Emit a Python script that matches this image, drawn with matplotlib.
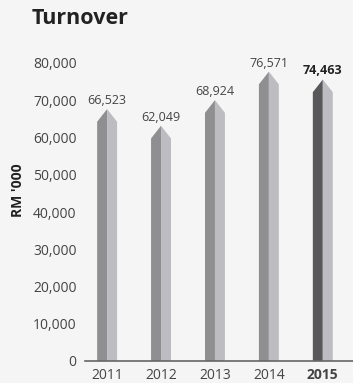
import numpy as np
import matplotlib.pyplot as plt

plt.rcParams['font.family'] = ['Open Sans', 'DejaVu Sans']

years = ['2011', '2012', '2013', '2014', '2015']
turnover = [66523, 62049, 68924, 76571, 74463]
yticks = [0, 10000, 20000, 30000, 40000, 50000, 60000, 70000, 80000]

bg = '#f5f5f5'
fig = plt.figure(figsize=(3.53, 3.83), dpi=100, facecolor=bg)
ax = fig.add_axes([85/353, 22/383, 1 - 85/353, (361 - 63)/383])
ax.set_facecolor(bg)

hw = 0.185           # half bar width
roof_up = 1100       # peak above value
roof_down = 2300     # shoulder below value

for i, v in enumerate(turnover):
    last = i == len(turnover) - 1
    dark = '#58585a' if last else '#8f8f92'
    light = '#bdbdc1'
    sh, pk = v - roof_down, v + roof_up
    ax.fill([i - hw, i - hw, i, i], [0, sh, pk, 0], color=dark, lw=0)
    ax.fill([i, i, i + hw, i + hw], [0, pk, sh, 0], color=light, lw=0)
    ax.annotate(f'{v:,}', (i, pk), xytext=(0, 1.5), textcoords='offset points',
                ha='center', va='bottom', fontsize=9,
                color='#222222' if last else '#444444',
                fontweight='bold' if last else 'normal')

ax.set_xlim(-0.41, 4.56)
ax.set_ylim(0, 80000)
ax.set_yticks(yticks)
ax.set_yticklabels([f'{t:,}' for t in yticks])
ax.set_xticks(range(len(years)))
ax.set_xticklabels(years)
for lbl in ax.get_xticklabels()[-1:]:
    lbl.set_fontweight('bold')
    lbl.set_color('#222222')
ax.tick_params(axis='both', length=0, labelsize=10, colors='#444444')
ax.tick_params(axis='y', pad=6)
ax.tick_params(axis='x', pad=5)
for s in ['top', 'right', 'left']:
    ax.spines[s].set_visible(False)
ax.spines['bottom'].set_color('#666666')
ax.spines['bottom'].set_linewidth(1.2)

fig.text(32/353, 1 - 19/383, 'Turnover', fontsize=15.5, fontweight='bold',
         color='#222222', va='center', ha='left')
fig.text(18/353, 1 - 190/383, "RM '000", fontsize=10, fontweight='bold',
         color='#222222', rotation=90, va='center', ha='center')

fig.savefig('out.png', dpi=100, facecolor=bg)
